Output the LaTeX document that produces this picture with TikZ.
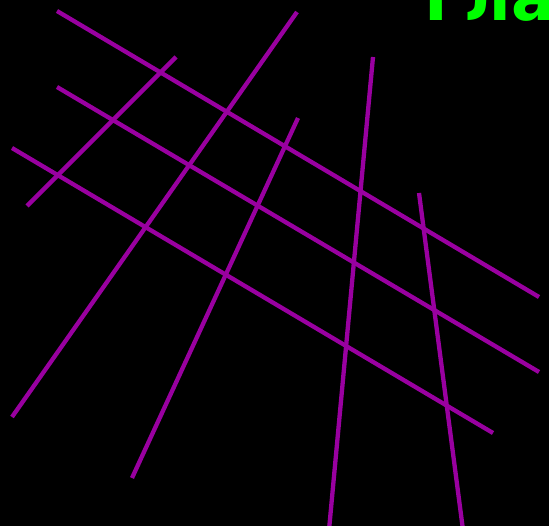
\documentclass[tikz,border=0pt]{standalone}
\usepackage{fontspec}
\newfontfamily\labelfont{DejaVu Sans}
\definecolor{streetpurple}{RGB}{153,0,160}
\definecolor{titlegreen}{RGB}{0,255,0}
\begin{document}
\begin{tikzpicture}[x=1bp,y=-1bp,
  street/.style={draw=streetpurple,line width=4.3bp}]
\fill[black] (0,0) rectangle (549,526);
\useasboundingbox (0,0) rectangle (549,526);
\begin{scope}
\clip (0,0) rectangle (549,526);
\draw[street] (57,11) -- (539,297);
\draw[street] (57,87) -- (539,372);
\draw[street] (12,148) -- (493,433);
\draw[street] (176,57) -- (27,206);
\draw[street] (297,12) -- (12,417);
\draw[street] (298,118) -- (132,478);
\draw[street] (373,57) -- (329,530);
\draw[street] (419,193) -- (463,530);
\node[anchor=base west,inner sep=0pt,text=titlegreen,font=\labelfont\bfseries\fontsize{64}{68}\selectfont] (title) at (424,21) {Гла};
\end{scope}
\end{tikzpicture}
\end{document}
